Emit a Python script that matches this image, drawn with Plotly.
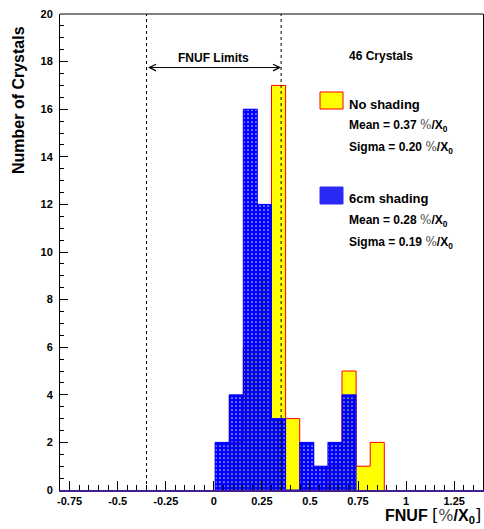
import plotly.graph_objects as go

# ---- histogram definition / data ----
X_MIN, X_MAX, N_BINS = -0.8, 1.4, 30
no_shading = [0, 0, 0, 0, 0, 0, 0, 0, 0, 0, 0, 0, 2, 6, 9, 17, 3, 0, 0, 1, 5, 1, 2, 0, 0, 0, 0, 0, 0, 0]
shading_6cm = [0, 0, 0, 0, 0, 0, 0, 0, 0, 0, 0, 2, 4, 16, 12, 3, 0, 2, 1, 2, 4, 0, 0, 0, 0, 0, 0, 0, 0, 0]
FNUF_LIMITS = [-0.35, 0.35]
x_tick_vals = [-0.75, -0.5, -0.25, 0, 0.25, 0.5, 0.75, 1, 1.25]
x_tick_text = ["-0.75", "-0.5", "-0.25", "0", "0.25", "0.5", "0.75", "1", "1.25"]
y_tick_vals = [0, 2, 4, 6, 8, 10, 12, 14, 16, 18, 20]
n_crystals = 46
stats = {
    "No shading": (0.37, 0.20),
    "6cm shading": (0.28, 0.19),
}

bw = (X_MAX - X_MIN) / N_BINS
edges = [X_MIN + i * bw for i in range(N_BINS + 1)]
centers = [X_MIN + (i + 0.5) * bw for i in range(N_BINS)]


def step_outline(counts):
    nz = [i for i, c in enumerate(counts) if c > 0]
    a, b = nz[0], nz[-1]
    xs = [edges[a]] + [edges[i] for i in range(a, b + 1)] + [edges[b + 1]]
    ys = [0] + [counts[i] for i in range(a, b + 1)] + [0]
    return xs, ys


FONT = "Liberation Sans, Arial, sans-serif"
YELLOW, RED, BLUE = "#ffff00", "#ff0000", "#0000ff"

fig = go.Figure()
# base layer: no shading (yellow, red outline)
fig.add_trace(go.Bar(x=centers, y=no_shading, width=bw, marker=dict(color=YELLOW, line=dict(width=0)),
                     showlegend=False, hoverinfo="skip"))
xs, ys = step_outline(no_shading)
fig.add_trace(go.Scatter(x=xs, y=ys, mode="lines", line=dict(color=RED, width=1, shape="hv"),
                         showlegend=False, hoverinfo="skip"))
# overlay layer: 6cm shading (blue pattern) drawn above the red outline
fig.add_trace(go.Bar(x=centers, y=shading_6cm, width=bw, xaxis="x2", yaxis="y2",
                     marker=dict(color=BLUE, line=dict(width=0),
                                 pattern=dict(shape=".", fgcolor=BLUE, bgcolor="rgba(0,0,0,0)",
                                              size=4, solidity=0.82, fillmode="replace")),
                     showlegend=False, hoverinfo="skip"))
xs, ys = step_outline(shading_6cm)
fig.add_trace(go.Scatter(x=xs, y=ys, mode="lines", xaxis="x2", yaxis="y2",
                         line=dict(color=BLUE, width=1, shape="hv"),
                         showlegend=False, hoverinfo="skip"))

# FNUF limit lines
for lim in FNUF_LIMITS:
    fig.add_shape(type="line", xref="x", yref="paper", x0=lim, x1=lim, y0=0, y1=1,
                  line=dict(color="black", width=1, dash="3px,3px"))

# top frame line
fig.add_shape(type="line", xref="paper", yref="paper", x0=0, x1=1, y0=1, y1=1,
              line=dict(color="black", width=1))

# arrow + label
arrow_y = 17.75
fig.add_annotation(x=FNUF_LIMITS[1], y=arrow_y, ax=FNUF_LIMITS[0], ay=arrow_y, axref="x", ayref="y",
                   xref="x", yref="y", text="", showarrow=True, arrowside="end+start",
                   arrowhead=5, arrowsize=1.3, arrowwidth=1, arrowcolor="black")
fig.add_annotation(x=sum(FNUF_LIMITS) / 2, y=18.15, xref="x", yref="y", text="FNUF Limits",
                   showarrow=False, font=dict(family=FONT, size=12, color="black", weight="bold"))

# legend / stats block (paper coords from pixel positions)
W0, W1, H0, H1 = 60, 483, 14, 490


def px(xp):
    return (xp - W0) / (W1 - W0)


def py(yp):
    return (H1 - yp) / (H1 - H0)


unit = "<span style='font-family:DejaVu Serif;font-weight:normal;color:#444'>%</span>/X<sub>0</sub>"


def txt(x, y, s, size=12):
    fig.add_annotation(x=px(x), y=py(y), xref="paper", yref="paper", xanchor="left", yanchor="middle",
                       text=s, showarrow=False, font=dict(family=FONT, size=size, color="black", weight="bold"))


txt(347, 56, f"{n_crystals} Crystals", 12)
names = list(stats.keys())
blocks = [(92, 109, YELLOW, RED, 104, 126, 147.5), (187, 204, "#2a2af6", "#2a2af6", 199, 221, 243)]
for name, (b0, b1, fc, lc, yn, ym, ys_) in zip(names, blocks):
    mean, sig = stats[name]
    fig.add_shape(type="rect", xref="paper", yref="paper", x0=px(320), x1=px(343), y0=py(b1), y1=py(b0),
                  fillcolor=fc, line=dict(color=lc, width=1))
    txt(347, yn, name, 13)
    txt(347, ym, f"Mean = {mean:.2f} {unit}", 12)
    txt(347, ys_, f"Sigma = {sig:.2f} {unit}", 12)

# axis titles
fig.add_annotation(x=px(18), y=py(100), xref="paper", yref="paper", text="Number of Crystals",
                   textangle=-90, showarrow=False, xanchor="center", yanchor="middle",
                   font=dict(family=FONT, size=16, color="black", weight="bold"))
fig.add_annotation(x=1, y=py(516), xref="paper", yref="paper", xanchor="right", yanchor="middle",
                   text="FNUF <span style='font-family:DejaVu Serif;font-weight:normal'>[</span>"
                        "<span style='font-family:DejaVu Serif;font-weight:normal;color:#444'>%</span>/X<sub>0</sub>"
                        "<span style='font-family:DejaVu Serif;font-weight:normal'>]</span>",
                   showarrow=False, font=dict(family=FONT, size=16, color="black", weight="bold"))

fig.update_layout(
    width=484, height=529, margin=dict(l=W0, r=484 - W1, t=H0, b=529 - H1, autoexpand=False),
    paper_bgcolor="white", plot_bgcolor="white", barmode="overlay", bargap=0, showlegend=False,
    font=dict(family=FONT, color="black"),
    xaxis=dict(range=[X_MIN, X_MAX], tickvals=x_tick_vals, ticktext=x_tick_text, ticks="inside",
               ticklen=9, tickcolor="black", showgrid=False, zeroline=False, showline=True,
               linecolor="#3f1f8f", linewidth=1.5, automargin=False,
               tickfont=dict(family=FONT, size=11, color="black", weight="bold"),
               minor=dict(dtick=0.05, tick0=0, ticks="inside", ticklen=5, tickcolor="black", showgrid=False)),
    yaxis=dict(range=[0, 20], tickvals=y_tick_vals, ticks="inside", ticklen=8, tickcolor="black",
               showgrid=False, zeroline=False, showline=True, linecolor="black", mirror=True,
               ticklabelstandoff=4, automargin=False,
               tickfont=dict(family=FONT, size=11, color="black", weight="bold"),
               minor=dict(dtick=0.5, tick0=0, ticks="inside", ticklen=4, tickcolor="black", showgrid=False)),
    xaxis2=dict(range=[X_MIN, X_MAX], overlaying="x", visible=False, showgrid=False, zeroline=False),
    yaxis2=dict(range=[0, 20], overlaying="y", visible=False, showgrid=False, zeroline=False),
)

fig.write_html("out.html", config={"displayModeBar": False},
               post_script="document.body.style.margin='0';document.body.style.padding='0';")
